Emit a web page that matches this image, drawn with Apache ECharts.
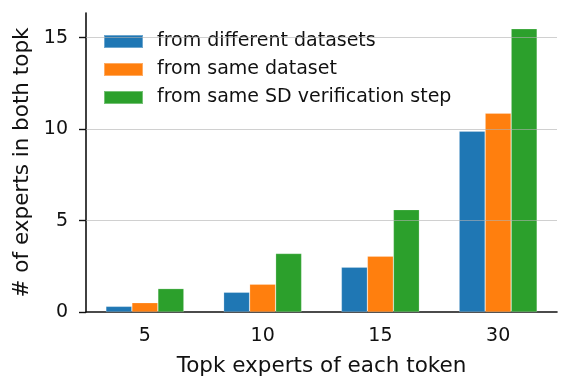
<!DOCTYPE html>
<html>
<head>
<meta charset="utf-8">
<script src="https://cdn.jsdelivr.net/npm/echarts@6/dist/echarts.min.js"></script>
<style>
  html, body { margin: 0; padding: 0; background: #fff; }
  #chart { width: 564px; height: 384px; }
</style>
</head>
<body>
<div id="chart"></div>
<script>
// data
const topkLabels = ['5', '10', '15', '30'];
const diffDatasets = [0.31, 1.08, 2.45, 9.89];
const sameDataset = [0.51, 1.52, 3.05, 10.87];
const sameSDStep = [1.28, 3.2, 5.6, 15.49];
const yTicks = [0, 5, 10, 15];
const seriesNames = ['from different datasets', 'from same dataset', 'from same SD verification step'];

const font = 'DejaVu Sans';
const colors = ['#1f77b4', '#ff7f0e', '#2ca02c'];

let chart = echarts.init(document.getElementById('chart'), null, {renderer: 'canvas'});

function bar(name, data, withGrid) {
  let s = {
    name: name,
    type: 'bar',
    data: data,
    barWidth: 26,
    barGap: '0%',
    itemStyle: { borderColor: 'rgba(255,255,255,0.35)', borderWidth: 0.6 }
  };
  if (withGrid) {
    // matplotlib grid sits on top of the bars
    s.markLine = {
      silent: true,
      symbol: 'none',
      label: { show: false },
      lineStyle: { color: 'rgba(176,176,176,0.6)', type: 'solid', width: 1 },
      data: yTicks.filter(v => v > 0).map(v => ({ yAxis: v }))
    };
  }
  return s;
}

let option = {
  animation: false,
  color: colors,
  textStyle: { fontFamily: font },
  grid: { left: 86, right: 7, top: 13, bottom: 72, containLabel: false },
  legend: {
    data: seriesNames,
    orient: 'vertical',
    left: 103,
    top: 32,
    padding: 0,
    itemWidth: 39,
    itemHeight: 13,
    itemGap: 9,
    icon: 'rect',
    textStyle: { fontFamily: font, fontSize: 19, lineHeight: 19, color: '#111', padding: [0, 0, 0, 9] }
  },
  xAxis: {
    type: 'category',
    data: topkLabels,
    name: 'Topk experts of each token',
    nameLocation: 'middle',
    nameGap: 43,
    nameTextStyle: { fontFamily: font, fontSize: 21.5, color: '#111' },
    axisLine: { lineStyle: { color: '#111', width: 1.6 } },
    axisTick: { alignWithLabel: true, length: 7, lineStyle: { color: '#111', width: 1.4 } },
    axisLabel: { fontFamily: font, fontSize: 19, color: '#111', margin: 15 }
  },
  yAxis: {
    type: 'value',
    min: 0,
    max: 16.35,
    interval: 5,
    name: '# of experts in both topk',
    nameLocation: 'middle',
    nameGap: 48,
    nameTextStyle: { fontFamily: font, fontSize: 21.5, color: '#111' },
    axisLine: { show: true, lineStyle: { color: '#111', width: 1.6 } },
    axisTick: { show: true, length: 7, customValues: yTicks, lineStyle: { color: '#111', width: 1.4 } },
    axisLabel: { fontFamily: font, fontSize: 19, color: '#111', margin: 18, customValues: yTicks },
    splitLine: { show: false }
  },
  series: [
    bar(seriesNames[0], diffDatasets, false),
    bar(seriesNames[1], sameDataset, false),
    bar(seriesNames[2], sameSDStep, true)
  ]
};

chart.setOption(option);
</script>
</body>
</html>
